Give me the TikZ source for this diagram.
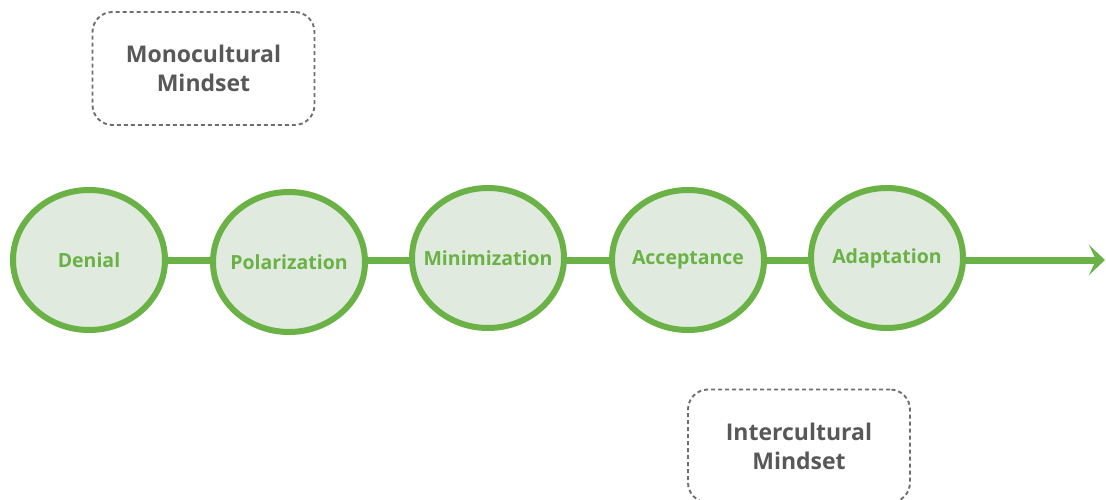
\documentclass[tikz,border=0pt]{standalone}
\usepackage{fontspec}
\setmainfont{Open Sans}
\usetikzlibrary{arrows.meta,shapes.geometric}
\definecolor{grn}{RGB}{106,178,70}
\definecolor{grnfill}{RGB}{224,234,222}
\definecolor{txtgray}{RGB}{88,88,88}
\definecolor{dashgray}{RGB}{110,110,110}
\tikzset{
  stage/.style={ellipse, draw=grn, line width=6pt, fill=grnfill, minimum width=152pt, minimum height=140pt, inner sep=0pt},
  stagetext/.style={text=grn, font=\bfseries\fontsize{19.5}{22}\selectfont, inner sep=0pt},
  link/.style={draw=grn, line width=7pt},
  mindbox/.style={draw=dashgray, dashed, dash pattern=on 4pt off 3pt, line width=1.9pt, rounded corners=20pt, minimum width=222pt, minimum height=113pt, text=txtgray, align=center, font=\bfseries\fontsize{23}{29}\selectfont}
}
\begin{document}
\begin{tikzpicture}[x=1pt,y=-1pt]
\useasboundingbox (0,0) rectangle (1106,500);
\node[stage, label={[stagetext]center:Denial}] (denial) at (89,260) {};
\node[stage, label={[stagetext]center:Polarization}] (polar) at (289,262) {};
\node[stage, label={[stagetext]center:Minimization}] (minim) at (488,258) {};
\node[stage, label={[stagetext]center:Acceptance}] (accept) at (688,260) {};
\node[stage, label={[stagetext]center:Adaptation}] (adapt) at (887,258) {};
\coordinate (end) at (1105,260);
\draw[link] (denial.east |- 0,260) -- (polar.west |- 0,260);
\draw[link] (polar.east |- 0,260) -- (minim.west |- 0,260);
\draw[link] (minim.east |- 0,260) -- (accept.west |- 0,260);
\draw[link] (accept.east |- 0,260) -- (adapt.west |- 0,260);
\draw[link, -{Stealth[length=16pt,width=30pt,inset=7pt]}] (adapt.east |- 0,260) -- (end);
\node[mindbox] (mono) at (203.5,68.5) {Monocultural\\Mindset};
\node[mindbox] (inter) at (799,446) {Intercultural\\Mindset};
\end{tikzpicture}
\end{document}
